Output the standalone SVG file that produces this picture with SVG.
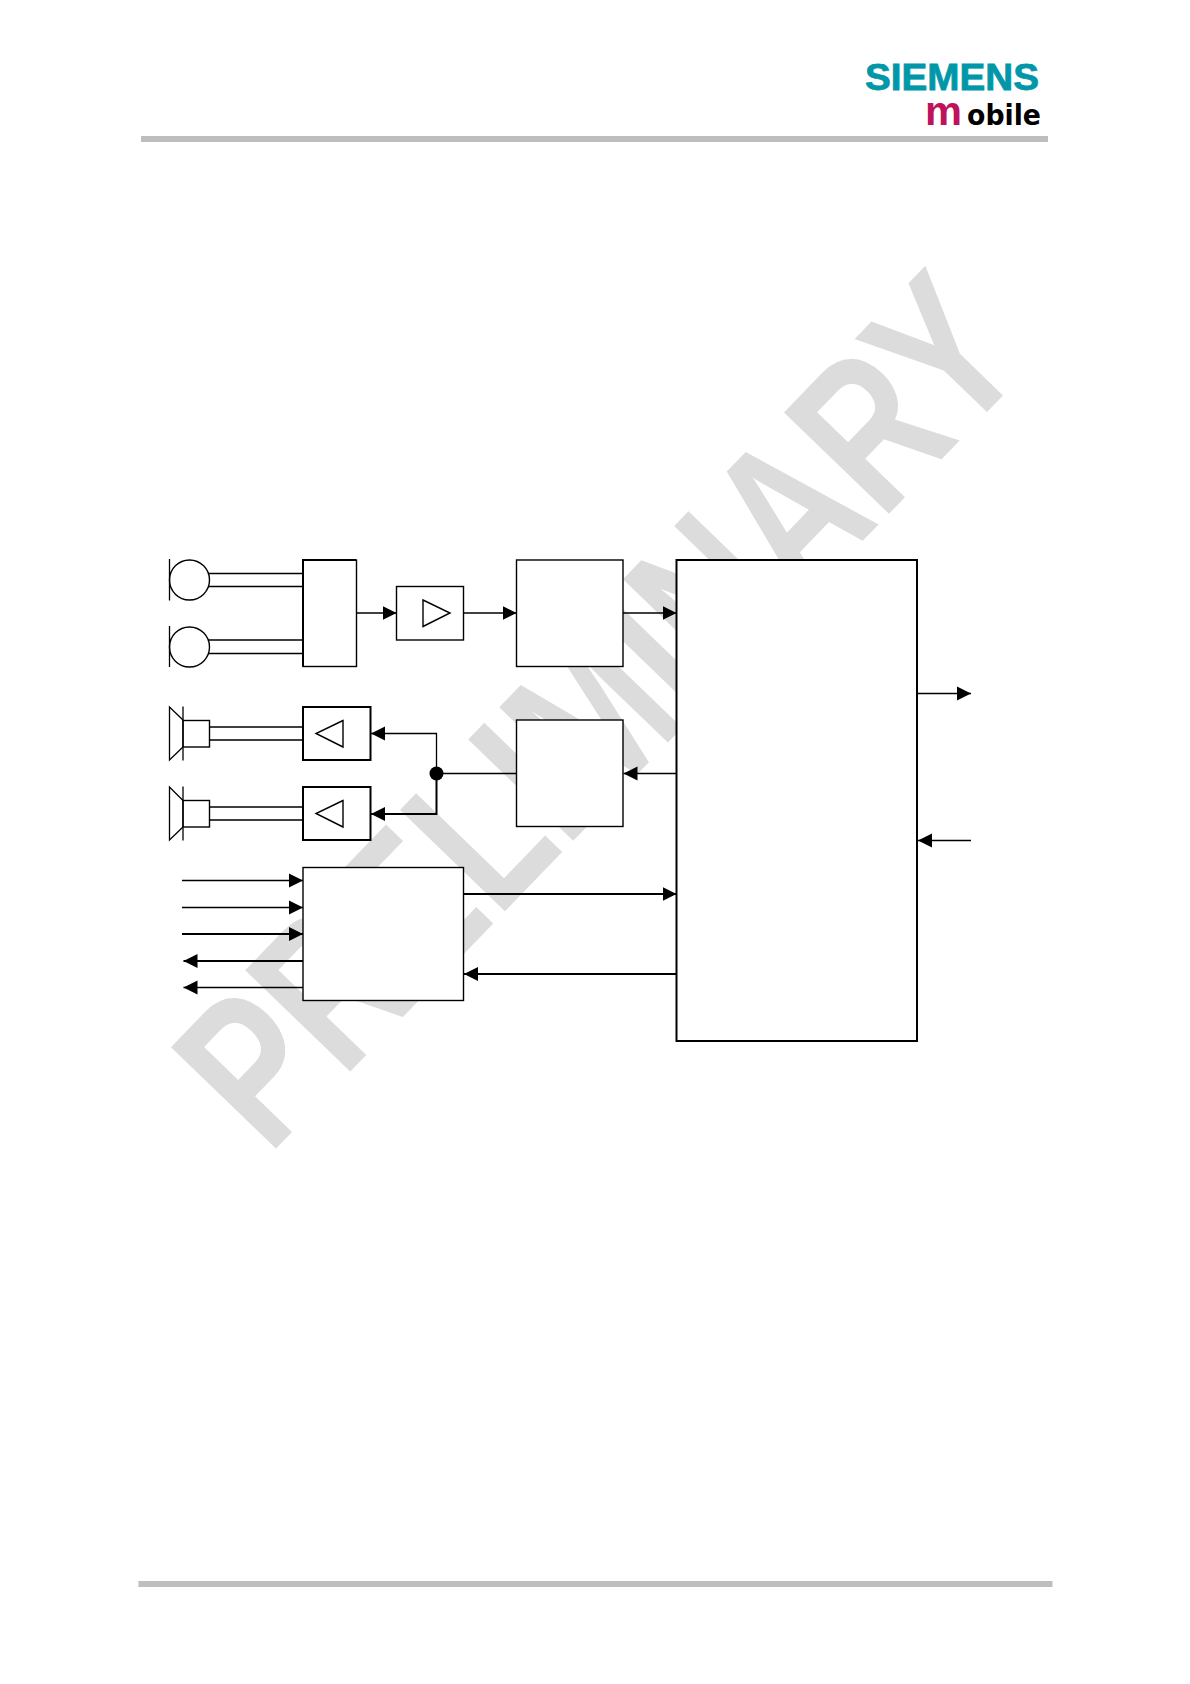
<svg xmlns="http://www.w3.org/2000/svg" width="1190" height="1684" viewBox="0 0 1190 1684">
<style>
.l{fill:none;stroke:#000;stroke-width:1.3}
.t{fill:none;stroke:#000;stroke-width:2}
.b{fill:#fff;stroke:#000;stroke-width:1.4}
.w{fill:#fff;stroke:#000;stroke-width:2}
.a{marker-end:url(#ah)}
.rule{fill:#bebebe}
</style>
<defs><marker id="ah" markerUnits="userSpaceOnUse" markerWidth="15" markerHeight="16" refX="14" refY="7.500" orient="auto"><path d="M0 0.500L14 7.500L0 14.500Z" fill="#000"/></marker></defs>
<rect width="1190" height="1684" fill="#fff"/>
<rect class="rule" x="141" y="136" width="907" height="6"/>
<rect class="rule" x="138.500" y="1581" width="914" height="6"/>
<g id="logo">
<text x="865" y="90" font-family="Liberation Sans, sans-serif" font-weight="700" font-size="37" fill="#0097a9" stroke="#0097a9" stroke-width=".8" textLength="174" lengthAdjust="spacingAndGlyphs">SIEMENS</text>
<text x="925" y="125" font-family="Liberation Sans, sans-serif" font-weight="700" font-size="40" fill="#c0115c" textLength="37" lengthAdjust="spacingAndGlyphs">m</text>
<text x="967" y="125" font-family="DejaVu Sans, sans-serif" font-weight="700" font-size="29" fill="#000" textLength="74" lengthAdjust="spacingAndGlyphs">obile</text>
</g>
<text id="watermark" transform="translate(268.400 1156.300) rotate(-46) scale(.757 1)" font-family="Liberation Sans, sans-serif" font-weight="700" font-size="212" fill="#dcdcdc">PRELIMINARY</text>
<g id="connectors">
<path class="l" d="M190 573.500H303M190 586.500H303M190 640H303M190 653.500H303"/>
<path class="l" d="M209.500 727H303M209.500 740H303M209.500 807H303M209.500 820H303"/>
<path class="l a" d="M356.500 613H396.500"/>
<path class="l a" d="M463 613H516.500"/>
<path class="l a" d="M623 613H676.500"/>
<path class="l a" d="M676.500 773.500H623.500"/>
<path class="l a" d="M516.500 773.500H436.500V733.500H371"/>
<path class="t a" d="M436.500 773.500V814H371"/>
<path class="l a" d="M917 693.500H971"/>
<path class="l a" d="M971 840.500H918"/>
<path class="l a" d="M182 880.500H303"/>
<path class="l a" d="M182 907.500H303"/>
<path class="t a" d="M182 934H303"/>
<path class="t a" d="M303 961H183.500"/>
<path class="l a" d="M303 987.500H183.500"/>
<path class="t a" d="M463.500 894H676.500"/>
<path class="t a" d="M676.500 974H464"/>
<circle cx="436.500" cy="773.500" r="7" fill="#000"/>
</g>
<g id="mic1"><circle class="b" cx="189.500" cy="580" r="20"/><path class="l" d="M169.500 559V600.500"/></g>
<g id="mic2"><circle class="b" cx="189.500" cy="647" r="20"/><path class="l" d="M169.500 626V667"/></g>
<g id="mixer"><rect class="b" x="303" y="560" width="53.500" height="106.500"/><path class="t" d="M303 666.500V560H356"/></g>
<g id="amp-in"><rect class="b" x="396.500" y="586.500" width="67" height="53.500"/><path class="b" d="M423 600L450 613L423 626.500Z"/></g>
<g id="adc"><rect class="b" x="516.500" y="560" width="106.500" height="106.500"/></g>
<g id="dac"><rect class="b" x="516.500" y="720" width="106.500" height="106.500"/></g>
<g id="dsp"><rect class="w" x="676.500" y="560" width="240.500" height="481"/></g>
<g id="speaker1"><path class="l" d="M183 720L169.500 707V760L183 747"/><rect class="b" x="183" y="720.500" width="26.500" height="26.500"/><path class="l" d="M183 706.500V760.500"/></g>
<g id="speaker2"><path class="l" d="M183 800.500L169.500 787V840L183 827"/><rect class="b" x="183" y="800.500" width="26.500" height="26.500"/><path class="l" d="M183 786.500V840.500"/></g>
<g id="amp-out1"><rect class="w" x="303" y="707" width="67.500" height="53"/><path class="b" d="M343 720.500L316 733.500L343 747Z"/></g>
<g id="amp-out2"><rect class="w" x="303" y="787" width="67.500" height="53"/><path class="b" d="M343 800.500L316 813.500L343 827Z"/></g>
<g id="codec"><rect class="b" x="303" y="867.500" width="160.500" height="133"/></g>
</svg>
